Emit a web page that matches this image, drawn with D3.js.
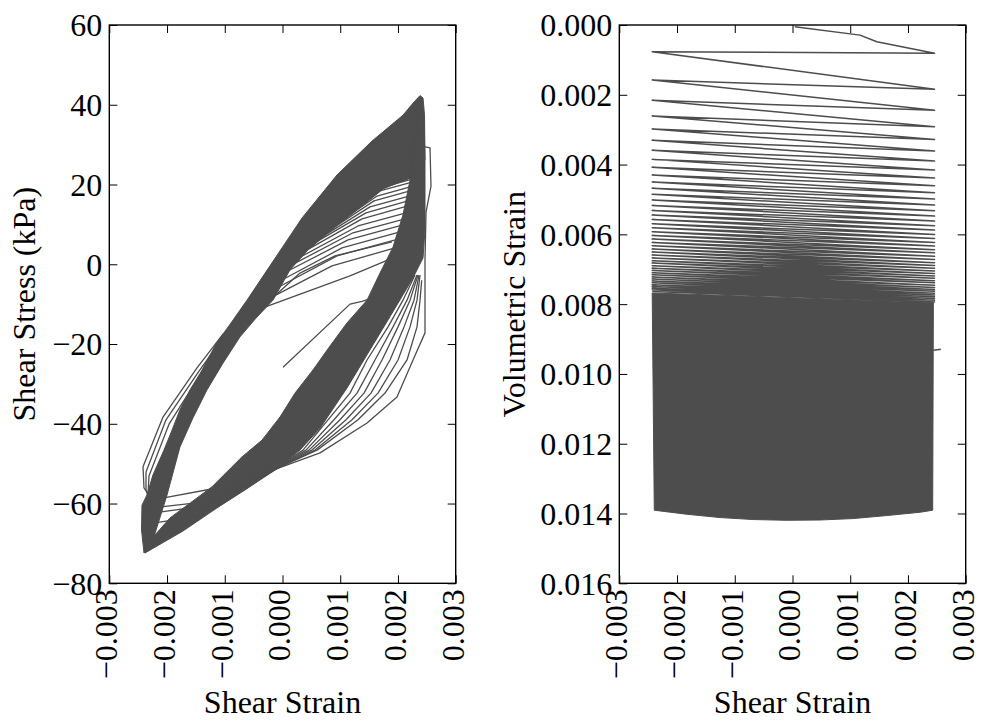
<!DOCTYPE html>
<html><head><meta charset="utf-8">
<script src="https://cdn.jsdelivr.net/npm/d3@7"></script>
<style>
html,body{margin:0;padding:0;background:#fff;}
</style></head><body>
<svg id="chart" width="981" height="723"></svg>
<script>
// ---------- tick values ----------
const strainTicks = [-0.003, -0.002, -0.001, 0, 0.001, 0.002, 0.003];
const stressTicks = [-80, -60, -40, -20, 0, 20, 40, 60];
const volTicks = [0, 0.002, 0.004, 0.006, 0.008, 0.010, 0.012, 0.014, 0.016];

// ---------- left panel: shear strain vs shear stress (kPa) ----------
// dense band of later loops, upper-left branch (outline: outer edge then inner edge)
const upperBand = [
  [-0.002399,-72.4],[-0.002442,-66.6],[-0.002434,-60.4],[-0.002347,-57.8],[-0.002243,-52.8],
  [-0.002053,-46.6],[-0.001914,-41.6],[-0.001776,-36.5],[-0.001602,-31.5],[-0.001412,-27.0],
  [-0.001152,-20.0],[-0.000857,-14.0],[-0.000615,-9.0],[-0.000217,-0.4],[0.000338,11.6],
  [0.000944,22.4],[0.001550,30.9],[0.002087,37.4],[0.002278,40.7],[0.002382,42.3],
  [0.002434,41.7],[0.002460,37.4],[0.002468,26.2],
  [0.002347,23.7],[0.002209,21.6],[0.001741,18.9],[0.001464,15.6],[0.000875,8.9],
  [0.000442,3.6],[0.000130,-1.4],[-0.000165,-9.0],[-0.000459,-13.5],[-0.000736,-18.2],
  [-0.001031,-24.8],[-0.001308,-31.5],[-0.001550,-38.5],[-0.001776,-45.8],[-0.002001,-57.9],
  [-0.002243,-69.1],[-0.002364,-72.1]
];
// dense band, lower-right branch
const lowerBand = [
  [-0.002382,-72.4],[-0.001724,-66.9],[-0.001135,-61.1],[-0.000650,-56.6],[-0.000130,-51.6],
  [0.000303,-46.6],[0.000650,-41.1],[0.001118,-31.0],[0.001568,-20.2],[0.001983,-10.2],
  [0.002261,-3.4],[0.002434,1.6],[0.002468,8.6],[0.002468,26.2],[0.002451,36.2],
  [0.002347,37.9],[0.002278,28.7],[0.002209,21.1],[0.002087,12.4],[0.001914,4.3],
  [0.001689,-2.2],[0.001464,-9.0],[0.001117,-14.7],[0.000823,-20.5],[0.000528,-26.5],
  [0.000217,-32.3],[-0.000043,-38.3],[-0.000355,-44.1],[-0.000702,-48.3],[-0.001221,-55.8],
  [-0.001602,-59.9],[-0.001949,-63.6],[-0.002209,-67.9],[-0.002347,-71.1]
];
// first loading
const initialLoading = [[0.000009,-25.8],[0.001169,-10.0],[0.001377,-9.3],[0.001550,-8.5]];
// early cycles drawn as single lines
const earlyCycle1 = [
  [0.002399,29.7],[0.002555,29.2],[0.002572,19.6],[0.002486,13.1],[0.002468,1.1],
  [0.002468,-9.0],[0.002468,-17.2],[0.002261,-24.0],[0.001983,-33.3],[0.001464,-39.8],
  [0.000650,-47.3],[-0.000165,-51.6],[-0.001135,-56.1],[-0.002174,-58.9],[-0.002261,-58.9],
  [-0.002399,-56.1],[-0.002416,-50.8],[-0.002070,-38.3],[-0.001481,-26.0],[-0.001031,-17.5],
  [-0.000217,-9.0],[0.000303,-2.2],[0.000909,2.1],[0.001897,5.6]
];
const earlyCycle2 = [
  [0.002411,-4.0],[0.002382,-9.0],[0.002330,-15.7],[0.002157,-24.0],[0.001776,-32.3],
  [0.001308,-39.0],[0.000598,-46.6],[-0.000043,-50.8],[-0.000736,-56.6],[-0.001342,-59.6],
  [-0.002261,-61.1],[-0.002364,-56.6],[-0.002364,-52.1],[-0.002018,-39.0],[-0.001446,-26.8],
  [-0.001013,-18.0]
];
const earlyCycle3 = [
  [0.002382,-2.7],[0.002330,-9.0],[0.002209,-15.7],[0.002001,-24.0],[0.001654,-32.3],
  [0.001204,-39.0],[0.000563,-46.6],[-0.000217,-52.1],[-0.001342,-60.6],[-0.002261,-62.4],
  [-0.002330,-57.9],[-0.002313,-53.1],[-0.001966,-40.1],[-0.001412,-27.5],[-0.000996,-18.5]
];
const earlyCycle4 = [
  [0.002365,-2.7],[0.002278,-9.0],[0.002105,-15.7],[0.001862,-24.0],[0.001533,-32.3],
  [0.001100,-39.0],[0.000511,-46.6],[-0.000217,-52.1],[-0.001429,-63.1],[-0.002243,-64.9],
  [-0.002295,-60.6]
];
const unloadLine5 = [[-0.000217,-52.1],[0.000459,-46.6],[0.000996,-39.0],[0.001412,-32.3],[0.001724,-24.0],[0.002001,-15.7],[0.002209,-9.0],[0.002347,-2.7]];
const unloadLine6 = [[-0.000217,-52.1],[0.000407,-46.6],[0.000892,-39.0],[0.001291,-32.3],[0.001602,-24.0],[0.001914,-15.7],[0.002157,-9.0],[0.002330,-2.7]];
const unloadLine7 = [[-0.000217,-52.1],[0.000355,-46.6],[0.000788,-39.0],[0.001169,-32.3],[0.001464,-24.0],[0.001828,-15.7],[0.002087,-9.0],[0.002295,-2.7]];
// fan of early loading branches inside the upper part of the loop
const fanLines = [
  [[-0.000355,-11.0],[0.001169,-2.9],[0.001862,1.3]],
  [[-0.000217,-8.5],[0.000857,-0.4],[0.001949,4.1]],
  [[-0.000130,-6.2],[0.000944,2.1],[0.002001,6.3]],
  [[-0.000043,-4.2],[0.001031,4.1],[0.002035,8.1]],
  [[0.000026,-2.2],[0.001135,6.1],[0.002087,9.9]],
  [[0.000130,-0.4],[0.001221,7.9],[0.002122,11.4]],
  [[0.000217,1.1],[0.001308,9.6],[0.002139,12.9]],
  [[0.000303,2.6],[0.001377,11.4],[0.002157,14.6]],
  [[0.000407,4.1],[0.001446,12.9],[0.002174,15.9]],
  [[0.000511,5.3],[0.001516,14.4],[0.002191,17.1]],
  [[0.000615,6.6],[0.001585,15.9],[0.002209,18.4]],
  [[0.000719,7.9],[0.001637,17.1],[0.002226,19.5]],
  [[0.000823,9.1],[0.001689,18.4],[0.002243,20.6]],
  [[0.000961,10.6],[0.001758,19.4],[0.002261,21.4]],
  [[0.001083,12.1],[0.001828,20.1],[0.002278,21.9]]
];

// ---------- right panel: shear strain vs volumetric strain ----------
const volStart = [[0.00004,0.00005],[0.00117,0.00029],[0.00146,0.00048]];
const tipStrain = [-0.00243, 0.00246];           // left / right reversal strain
const rightTipVol = [0.000812,0.001844,0.002446,0.002916,0.003278,0.003613,0.003900,0.004158,0.004387,
  0.004608,0.004808,0.004989,0.005161,0.005325,0.005477,0.005620,0.005755,0.005878,0.006002,0.00612,
  0.00623,0.00633,0.00644,0.00653,0.00663,0.00672,0.00681,0.00689,0.00697,0.00705,0.00712,0.00719,
  0.00726,0.00733,0.00739,0.00746,0.00752,0.00758,0.00763,0.00769,0.00774,0.00779,0.00784,0.00789,0.00794];
const leftTipVol = [0.000766,0.001577,0.002159,0.002609,0.002982,0.003306,0.003593,0.003851,0.004080,
  0.004301,0.004502,0.004682,0.004854,0.005018,0.005170,0.005313,0.005448,0.005571,0.005697,0.005812,
  0.005927,0.006030,0.006136,0.006231,0.006328,0.006423,0.006509,0.006595,0.006675,0.006753,0.006824,
  0.006896,0.006968,0.007034,0.007097,0.007160,0.007220,0.007278,0.007335,0.007390,0.007441,0.007493,
  0.007541,0.007590,0.007636];
// dense block of later cycles (outline)
const volBlock = [[-0.00243,0.00768],[-0.002394,0.013906],[-0.001833,0.014021],[-0.001256,0.014116],
  [-0.000679,0.014173],[-0.0001,0.014194],[0.000476,0.014186],[0.001053,0.014145],[0.001632,0.014059],
  [0.002209,0.013964],[0.002428,0.013906],[0.00244,0.00795]];
const volSpike = [[0.00244,0.00932],[0.00257,0.00929]];

// ---------- drawing ----------
const FONT = '"Liberation Serif","Times New Roman",serif';
const FS = 32;
const LINE = "#4d4d4d";
const TOP = 25, BOTTOM = 583.3;
const svg = d3.select("#chart");
svg.append("rect").attr("width",981).attr("height",723).attr("fill","#fff");

function drawPanel(id, left, right, yDomain, yTicks, yFmt, yTitle, yTitleX) {
  const x = d3.scaleLinear().domain([-0.003,0.003]).range([left,right]);
  const y = d3.scaleLinear().domain(yDomain).range([BOTTOM,TOP]);
  svg.append("clipPath").attr("id",id).append("rect")
    .attr("x",left).attr("y",TOP).attr("width",right-left).attr("height",BOTTOM-TOP);
  const content = svg.append("g").attr("clip-path",`url(#${id})`);

  const styleAxis = g => {
    g.attr("font-family",FONT).attr("font-size",FS);
    g.select(".domain").remove();
    g.selectAll(".tick line").attr("stroke","#000").attr("stroke-width",1);
    g.selectAll(".tick text").attr("fill","#000");
  };
  const fx = d3.format(".3f");
  const gb = svg.append("g").attr("transform",`translate(0,${BOTTOM})`)
    .call(d3.axisBottom(x).tickValues(strainTicks).tickSizeInner(-8).tickSizeOuter(0).tickFormat(fx));
  styleAxis(gb);
  gb.selectAll(".tick text").attr("transform","rotate(-90)").attr("x",-6).attr("y",0)
    .attr("dy","0.23em").attr("text-anchor","end");
  const gt = svg.append("g").attr("transform",`translate(0,${TOP})`)
    .call(d3.axisTop(x).tickValues(strainTicks).tickSizeInner(-8).tickSizeOuter(0).tickFormat(""));
  styleAxis(gt);
  const gl = svg.append("g").attr("transform",`translate(${left},0)`)
    .call(d3.axisLeft(y).tickValues(yTicks).tickSizeInner(-8).tickSizeOuter(0).tickPadding(7).tickFormat(yFmt));
  styleAxis(gl);
  gl.selectAll(".tick text").attr("dy","0.34em");
  const gr = svg.append("g").attr("transform",`translate(${right},0)`)
    .call(d3.axisRight(y).tickValues(yTicks).tickSizeInner(-8).tickSizeOuter(0).tickFormat(""));
  styleAxis(gr);

  svg.append("rect").attr("x",left).attr("y",TOP).attr("width",right-left).attr("height",BOTTOM-TOP)
    .attr("fill","none").attr("stroke","#000").attr("stroke-width",1.4);

  svg.append("text").attr("x",(left+right)/2).attr("y",713).attr("text-anchor","middle")
    .attr("font-family",FONT).attr("font-size",FS).text("Shear Strain");
  svg.append("text").attr("transform",`translate(${yTitleX},${(TOP+BOTTOM)/2}) rotate(-90)`)
    .attr("text-anchor","middle").attr("font-family",FONT).attr("font-size",FS).text(yTitle);
  return {x, y, content};
}

// left panel
const L = drawPanel("clipL", 109.3, 455.7, [-80,60], stressTicks, d3.format("d"), "Shear Stress (kPa)", 35);
const lineL = d3.line().x(d => L.x(d[0])).y(d => L.y(d[1]));
[upperBand, lowerBand].forEach(b => {
  L.content.append("path").attr("d", lineL(b) + "Z").attr("fill",LINE)
    .attr("stroke",LINE).attr("stroke-width",1).attr("stroke-linejoin","round");
});
[initialLoading, earlyCycle1, earlyCycle2, earlyCycle3, earlyCycle4, unloadLine5, unloadLine6, unloadLine7]
  .concat(fanLines).forEach(p => {
    L.content.append("path").attr("d", lineL(p)).attr("fill","none").attr("stroke",LINE)
      .attr("stroke-width",1.3).attr("stroke-linejoin","round");
  });

// right panel (y axis inverted: 0 at top)
const R = drawPanel("clipR", 619.3, 965.7, [0.016,0], volTicks, d3.format(".3f"), "Volumetric Strain", 525);
const lineR = d3.line().x(d => R.x(d[0])).y(d => R.y(d[1]));
const volPath = volStart.slice();
rightTipVol.forEach((v,i) => { volPath.push([tipStrain[1], v]); volPath.push([tipStrain[0], leftTipVol[i]]); });
R.content.append("path").attr("d", lineR(volBlock) + "Z").attr("fill",LINE).attr("stroke",LINE).attr("stroke-width",1);
R.content.append("path").attr("d", lineR(volPath)).attr("fill","none").attr("stroke",LINE)
  .attr("stroke-width",1.5).attr("stroke-linejoin","round");
R.content.append("path").attr("d", lineR(volSpike)).attr("fill","none").attr("stroke",LINE).attr("stroke-width",1.5);
</script>
</body></html>
